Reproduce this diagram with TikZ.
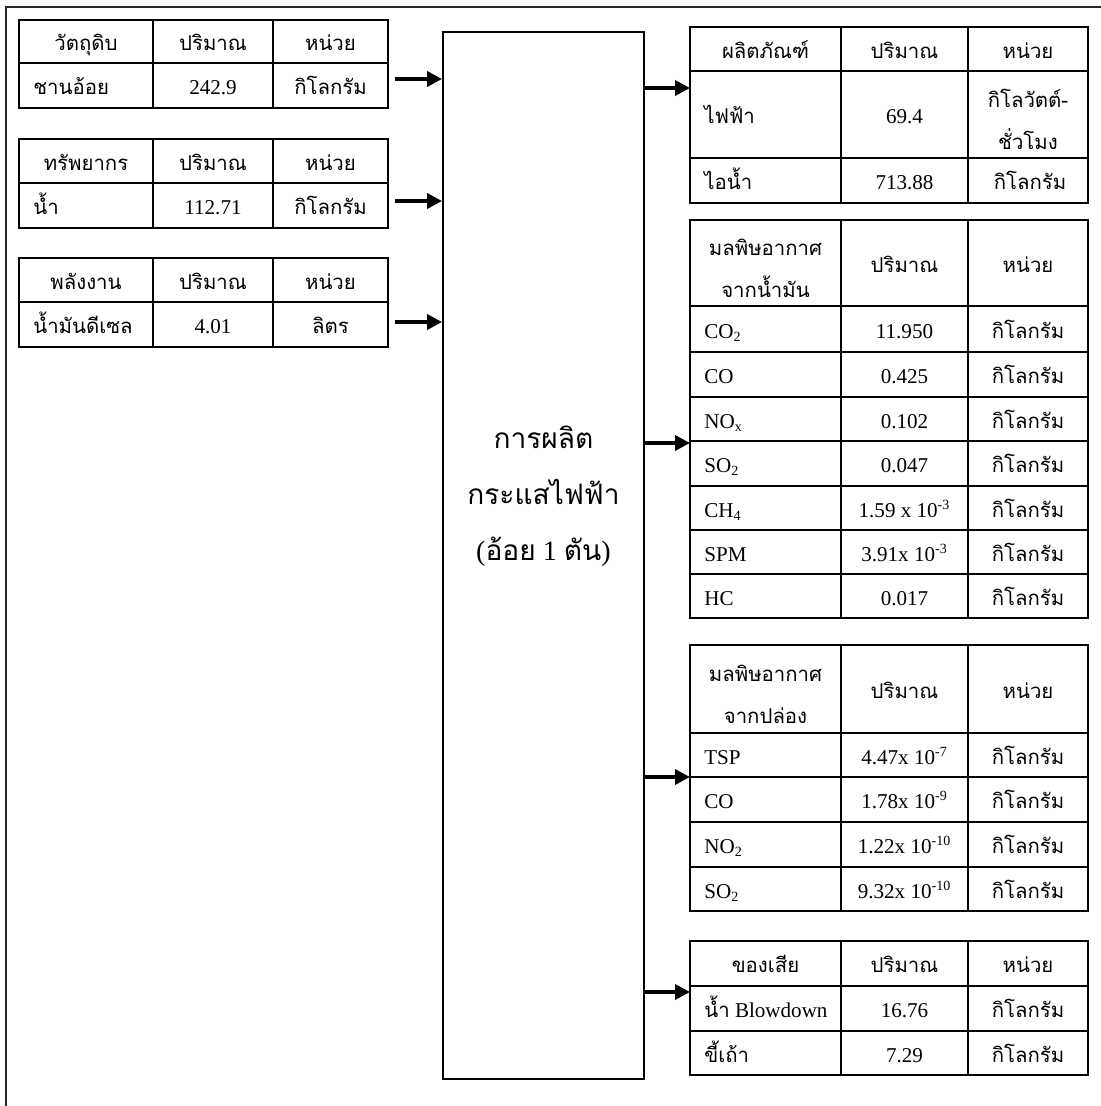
\documentclass[tikz,border=0pt]{standalone}
\usepackage{fontspec}
\setmainfont{Liberation Serif}
\newfontfamily\thaifont[Script=Thai]{Loma}
\usetikzlibrary{arrows.meta}

\begin{document}
\begin{tikzpicture}[x=0.02cm, y=-0.02cm,
    tbl/.style={line width=1.1pt},
    numcell/.style={anchor=base, yshift=-5.2pt, inner sep=0pt, font=\fontsize{12}{14}\selectfont},
    lnumcell/.style={numcell, anchor=base west},
    thaicell/.style={numcell, font=\thaifont\fontsize{11.6}{14}\selectfont},
    lthaicell/.style={thaicell, anchor=base west},
    twoline/.style={inner sep=0pt, align=center, font=\thaifont\fontsize{11.6}{24}\selectfont},
    flow/.style={-{Triangle[length=8.5pt, width=8.5pt]}, line width=2pt}
]
  \useasboundingbox (0,0) rectangle (1101,1106);

  % Rahmen
  \draw[line width=1.2pt, black!85] (1101,7) -- (6,7) -- (6,1106);

  % Prozess
  \node[draw, line width=1.1pt, minimum width=4.02cm, minimum height=20.94cm, inner sep=0pt] (proc) at (543.5,555.5) {};
  \node[align=center, font=\fontsize{16}{32}\selectfont] (proc-label) at (543.5,496)
    {{\thaifont การผลิต}\\{\thaifont กระแสไฟฟ้า}\\({\thaifont อ้อย} 1 {\thaifont ตัน})};

  % Eingang: Rohstoff
  \draw[tbl] (19,20) rectangle (388,108) (19,63) -- (388,63) (153,20) -- (153,108) (273,20) -- (273,108);
  \node[thaicell] (raw-h1) at (86,41.5) {วัตถุดิบ};
  \node[thaicell] (raw-h2) at (213,41.5) {ปริมาณ};
  \node[thaicell] (raw-h3) at (330.5,41.5) {หน่วย};
  \node[lthaicell] (raw-a) at (33,85.5) {ชานอ้อย};
  \node[numcell] (raw-b) at (213,85.5) {242.9};
  \node[thaicell] (raw-c) at (330.5,85.5) {กิโลกรัม};

  % Eingang: Ressource
  \draw[tbl] (19,139) rectangle (388,228) (19,183) -- (388,183) (153,139) -- (153,228) (273,139) -- (273,228);
  \node[thaicell] (res-h1) at (86,161) {ทรัพยากร};
  \node[thaicell] (res-h2) at (213,161) {ปริมาณ};
  \node[thaicell] (res-h3) at (330.5,161) {หน่วย};
  \node[lthaicell] (res-a) at (33,205.5) {น้ำ};
  \node[numcell] (res-b) at (213,205.5) {112.71};
  \node[thaicell] (res-c) at (330.5,205.5) {กิโลกรัม};

  % Eingang: Energie
  \draw[tbl] (19,258) rectangle (388,347) (19,302) -- (388,302) (153,258) -- (153,347) (273,258) -- (273,347);
  \node[thaicell] (fuel-h1) at (86,280) {พลังงาน};
  \node[thaicell] (fuel-h2) at (213,280) {ปริมาณ};
  \node[thaicell] (fuel-h3) at (330.5,280) {หน่วย};
  \node[lthaicell] (fuel-a) at (33,324.5) {น้ำมันดีเซล};
  \node[numcell] (fuel-b) at (213,324.5) {4.01};
  \node[thaicell] (fuel-c) at (330.5,324.5) {ลิตร};

  % Pfeile rein
  \coordinate (raw-out) at (395,79);
  \coordinate (res-out) at (395,201);
  \coordinate (fuel-out) at (395,322);
  \draw[flow] (raw-out) -- (raw-out -| proc.west);
  \draw[flow] (res-out) -- (res-out -| proc.west);
  \draw[flow] (fuel-out) -- (fuel-out -| proc.west);

  % Ausgang: Produkte
  \draw[tbl] (690,27) rectangle (1088,203) (690,71) -- (1088,71) (690,158) -- (1088,158) (841,27) -- (841,203) (968,27) -- (968,203);
  \node[thaicell] (prod-h1) at (765.5,49) {ผลิตภัณฑ์};
  \node[thaicell] (prod-h2) at (904.5,49) {ปริมาณ};
  \node[thaicell] (prod-h3) at (1028,49) {หน่วย};
  \node[lthaicell] (prod-1a) at (704,114.5) {ไฟฟ้า};
  \node[numcell] (prod-1b) at (904.5,114.5) {69.4};
  \node[twoline] (prod-1c) at (1028,119) {กิโลวัตต์-\\ชั่วโมง};
  \node[lthaicell] (prod-2a) at (704,180.5) {ไอน้ำ};
  \node[numcell] (prod-2b) at (904.5,180.5) {713.88};
  \node[thaicell] (prod-2c) at (1030,180.5) {กิโลกรัม};

  % Ausgang: Abgas aus Diesel
  \draw[tbl] (690,220) rectangle (1088,618) (841,220) -- (841,618) (968,220) -- (968,618);
  \foreach \yy in {306,352,397,441,486,530,574}
    \draw[tbl] (690,\yy) -- (1088,\yy);
  \node[twoline] (oil-h1) at (765.5,268) {มลพิษอากาศ\\จากน้ำมัน};
  \node[thaicell] (oil-h2) at (904.5,263) {ปริมาณ};
  \node[thaicell] (oil-h3) at (1028,263) {หน่วย};
  \foreach \i/\yy/\gas/\val in {1/329/CO\textsubscript{2}/11.950, 2/374.5/CO/0.425,
      3/419/NO\textsubscript{x}/0.102, 4/463.5/SO\textsubscript{2}/0.047,
      5/508/CH\textsubscript{4}/1.59 x 10\textsuperscript{-3}, 6/552/SPM/3.91x 10\textsuperscript{-3},
      7/596/HC/0.017} {
    \node[lnumcell] (oil-\i a) at (704,\yy) {\gas};
    \node[numcell] (oil-\i b) at (904.5,\yy) {\val};
    \node[thaicell] (oil-\i c) at (1028,\yy) {กิโลกรัม};
  }

  % Ausgang: Abgas aus Schornstein
  \draw[tbl] (690,645) rectangle (1088,911) (841,645) -- (841,911) (968,645) -- (968,911);
  \foreach \yy in {733,777,822,867}
    \draw[tbl] (690,\yy) -- (1088,\yy);
  \node[twoline] (stack-h1) at (765.5,694) {มลพิษอากาศ\\จากปล่อง};
  \node[thaicell] (stack-h2) at (904.5,689) {ปริมาณ};
  \node[thaicell] (stack-h3) at (1028,689) {หน่วย};
  \foreach \i/\yy/\gas/\val in {1/755/TSP/4.47x 10\textsuperscript{-7}, 2/799.5/CO/1.78x 10\textsuperscript{-9},
      3/844.5/NO\textsubscript{2}/1.22x 10\textsuperscript{-10}, 4/889/SO\textsubscript{2}/9.32x 10\textsuperscript{-10}} {
    \node[lnumcell] (stack-\i a) at (704,\yy) {\gas};
    \node[numcell] (stack-\i b) at (904.5,\yy) {\val};
    \node[thaicell] (stack-\i c) at (1028,\yy) {กิโลกรัม};
  }

  % Ausgang: Abfall
  \draw[tbl] (690,941) rectangle (1088,1075) (690,986) -- (1088,986) (690,1031) -- (1088,1031) (841,941) -- (841,1075) (968,941) -- (968,1075);
  \node[thaicell] (waste-h1) at (765.5,963.5) {ของเสีย};
  \node[thaicell] (waste-h2) at (904.5,963.5) {ปริมาณ};
  \node[thaicell] (waste-h3) at (1028,963.5) {หน่วย};
  \node[lnumcell] (waste-1a) at (704,1008.5) {{\thaifont\fontsize{11.6}{14}\selectfont น้ำ} Blowdown};
  \node[numcell] (waste-1b) at (904.5,1008.5) {16.76};
  \node[thaicell] (waste-1c) at (1028,1008.5) {กิโลกรัม};
  \node[lthaicell] (waste-2a) at (704,1053) {ขี้เถ้า};
  \node[numcell] (waste-2b) at (904.5,1053) {7.29};
  \node[thaicell] (waste-2c) at (1028,1053) {กิโลกรัม};

  % Pfeile raus
  \coordinate (prod-in) at (690,88);
  \coordinate (oil-in) at (690,443);
  \coordinate (stack-in) at (690,777);
  \coordinate (waste-in) at (690,992);
  \draw[flow] (prod-in -| proc.east) -- (prod-in);
  \draw[flow] (oil-in -| proc.east) -- (oil-in);
  \draw[flow] (stack-in -| proc.east) -- (stack-in);
  \draw[flow] (waste-in -| proc.east) -- (waste-in);

\end{tikzpicture}
\end{document}
